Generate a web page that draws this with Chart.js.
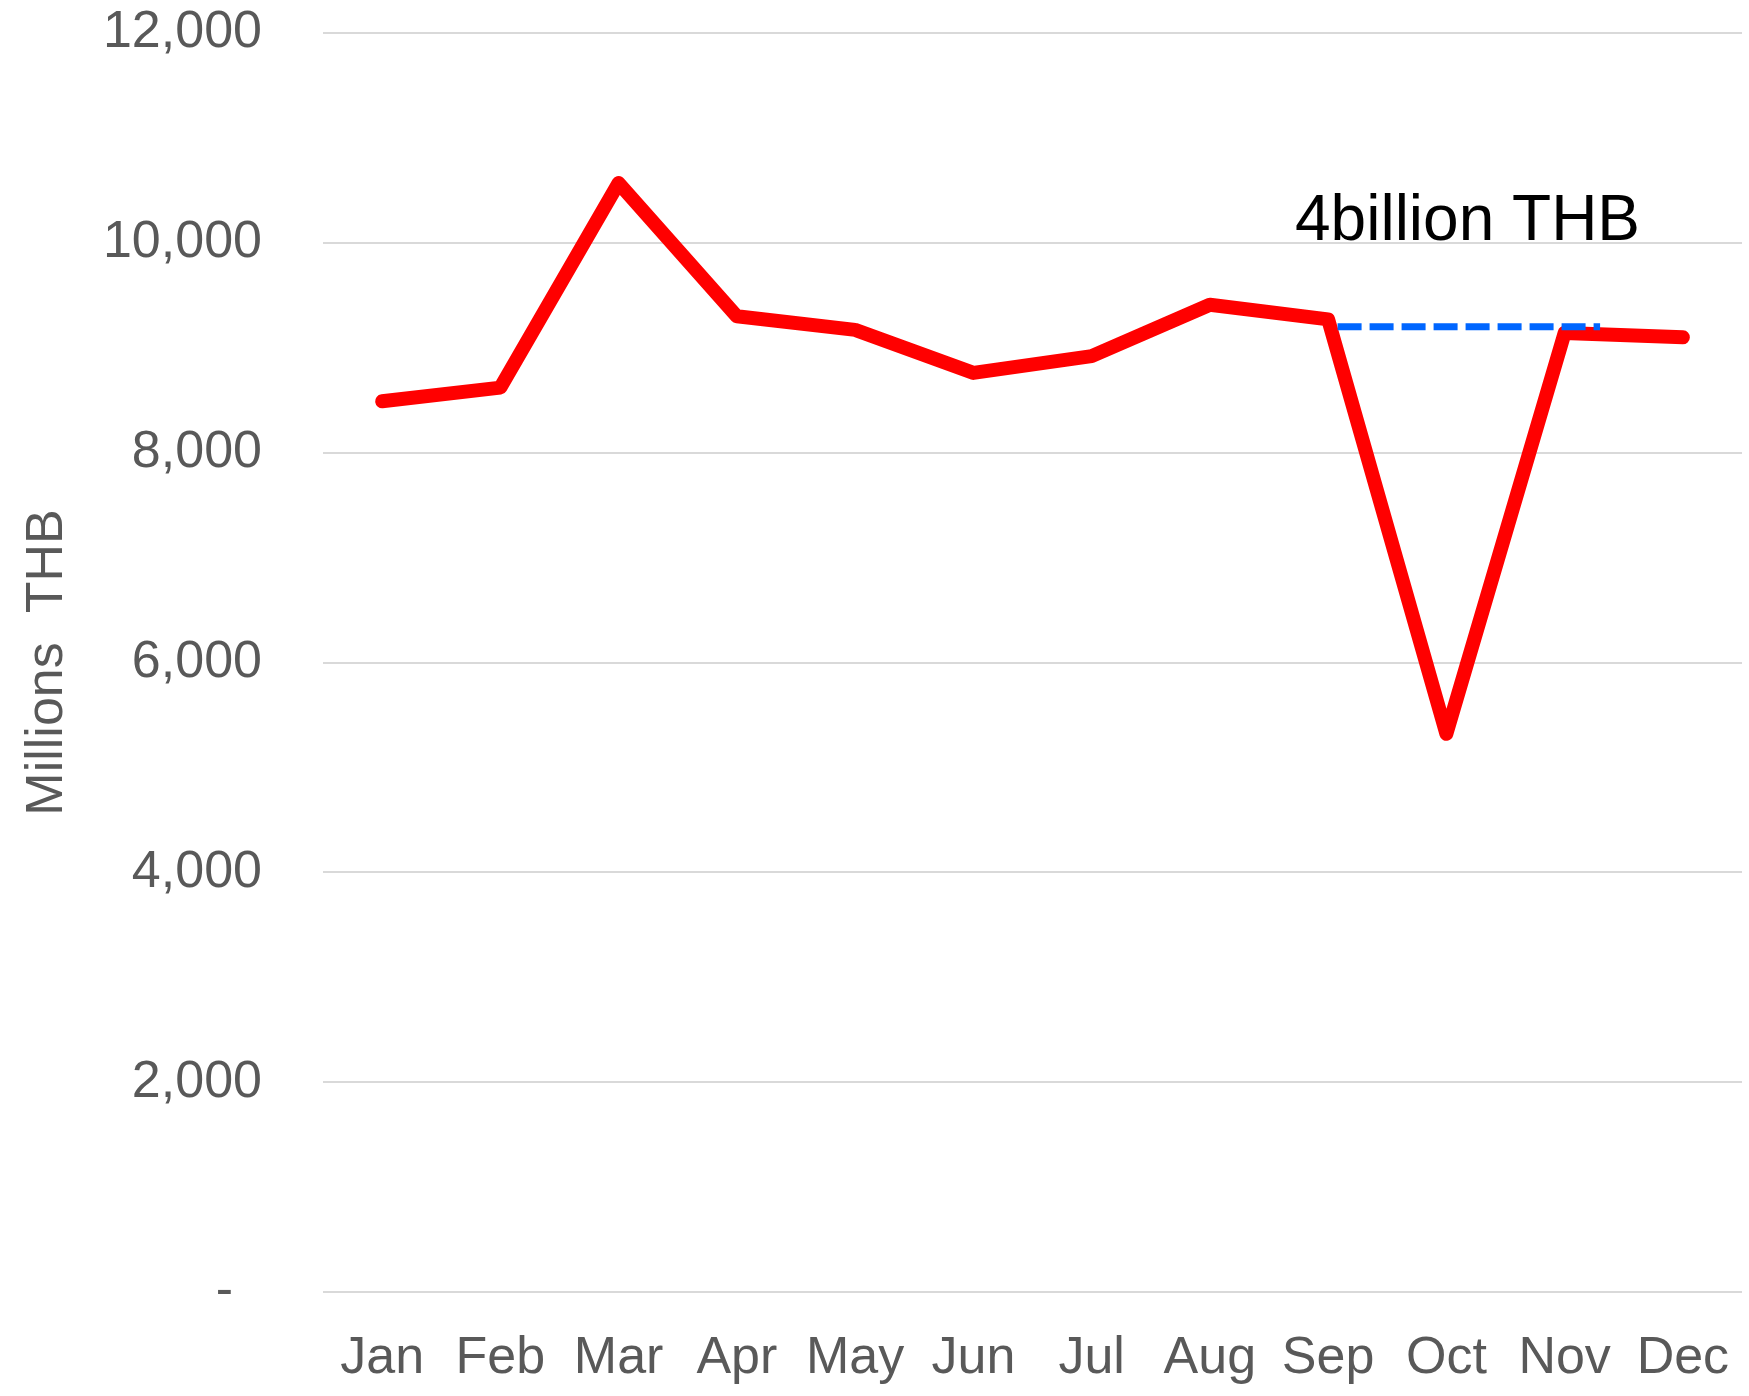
<!DOCTYPE html>
<html>
<head>
<meta charset="utf-8">
<script src="https://cdn.jsdelivr.net/npm/chart.js@4.4.1/dist/chart.umd.min.js"></script>
<style>
  html, body { margin: 0; padding: 0; background: #fff; }
  #wrap { width: 1749px; height: 1396px; }
</style>
</head>
<body>
<div id="wrap"><canvas id="myChart" width="1749" height="1396"></canvas></div>
<script>
'use strict';

const months = ['Jan', 'Feb', 'Mar', 'Apr', 'May', 'Jun', 'Jul', 'Aug', 'Sep', 'Oct', 'Nov', 'Dec'];
const values = [8490, 8620, 10570, 9300, 9170, 8760, 8920, 9410, 9270, 5320, 9140, 9100];
const yTicks = [0, 2000, 4000, 6000, 8000, 10000, 12000];
// dashed reference line (x in month index units)
const dashX = [8.08, 10.3];
const dashY = [9200, 9200];
const noteText = '4billion THB';
const notePos = [7.72, 10030];

const fontFamily = '"Liberation Sans", Arial, sans-serif';

const notePlugin = {
  id: 'note',
  afterDatasetsDraw(chart) {
    const ctx = chart.ctx;
    const x2 = chart.scales.x2;
    const y = chart.scales.y;
    ctx.save();
    ctx.font = '64px ' + fontFamily;
    ctx.fillStyle = '#000000';
    ctx.textAlign = 'left';
    ctx.textBaseline = 'alphabetic';
    ctx.fillText(noteText, x2.getPixelForValue(notePos[0]), y.getPixelForValue(notePos[1]));
    ctx.restore();
  }
};

let dashData = [];
for (let i = 0; i < dashX.length; i++) {
  dashData.push({ x: dashX[i], y: dashY[i] });
}

let ctx = document.getElementById('myChart').getContext('2d');
let myChart = new Chart(ctx, {
  type: 'line',
  data: {
    labels: months,
    datasets: [{
      data: dashData,
      xAxisID: 'x2',
      borderColor: '#0066ff',
      borderWidth: 7,
      borderDash: [24, 8],
      pointRadius: 0,
      tension: 0
    },
    {
      data: values,
      xAxisID: 'x',
      borderColor: '#ff0000',
      borderWidth: 14,
      borderCapStyle: 'round',
      borderJoinStyle: 'round',
      pointRadius: 0,
      tension: 0
    }]
  },
  options: {
    responsive: false,
    animation: false,
    layout: { padding: { top: 0, right: 7, bottom: 0, left: 0 } },
    plugins: {
      legend: { display: false },
      tooltip: { enabled: false }
    },
    scales: {
      x: {
        offset: true,
        grid: { display: false, drawTicks: false },
        border: { display: false },
        ticks: {
          color: '#595959',
          padding: 35,
          maxRotation: 0,
          autoSkip: false,
          font: { family: fontFamily, size: 52 }
        },
        afterFit(scale) {
          scale.height = 104;
          scale.paddingLeft = 0;
          scale.paddingRight = 7;
        }
      },
      x2: {
        type: 'linear',
        display: false,
        min: -0.5,
        max: 11.5
      },
      y: {
        min: 0,
        max: 12000,
        afterBuildTicks(scale) {
          scale.ticks = yTicks.map(v => ({ value: v }));
        },
        grid: { color: '#d9d9d9', lineWidth: 2, drawTicks: false },
        border: { display: false },
        ticks: {
          color: '#595959',
          padding: 61,
          font: { family: fontFamily, size: 52 },
          callback(v) {
            return v === 0 ? '-  ' : v.toLocaleString('en-US');
          }
        },
        title: {
          display: true,
          text: 'Millions  THB',
          color: '#595959',
          padding: { top: 16, bottom: 0 },
          font: { family: fontFamily, size: 52 }
        },
        afterFit(scale) {
          scale.width = 323;
          scale.paddingTop = 33;
          scale.paddingBottom = 0;
        }
      }
    }
  },
  plugins: [notePlugin]
});
</script>
</body>
</html>
